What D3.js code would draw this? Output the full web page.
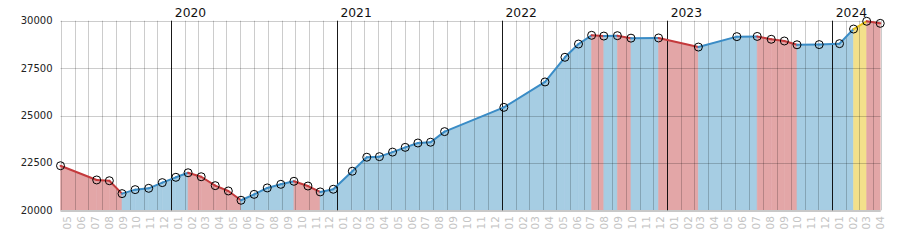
<!DOCTYPE html>
<html>
<head>
<meta charset="utf-8">
<script src="https://cdn.jsdelivr.net/npm/d3@7"></script>
<style>
  html, body { margin: 0; padding: 0; background: #fff; }
  svg { display: block; }
  text { font-family: "DejaVu Sans", sans-serif; }
</style>
</head>
<body>
<svg id="chart" width="900" height="250"></svg>
<script>
// ---- data ----
const dates = [
  "2019-05-01","2019-07-20","2019-08-17","2019-09-14","2019-10-13","2019-11-12","2019-12-12",
  "2020-01-11","2020-02-07","2020-03-07","2020-04-07","2020-05-06","2020-06-03","2020-07-02",
  "2020-07-31","2020-08-30","2020-09-28","2020-10-29","2020-11-25","2020-12-24",
  "2021-02-04","2021-03-08","2021-04-05","2021-05-04","2021-06-01","2021-06-29","2021-07-27",
  "2021-08-27","2022-01-05","2022-04-06","2022-05-20","2022-06-19","2022-07-18","2022-08-14",
  "2022-09-13","2022-10-13","2022-12-13","2023-03-11","2023-06-04","2023-07-19","2023-08-19",
  "2023-09-17","2023-10-15","2023-12-03","2024-01-17","2024-02-17","2024-03-17","2024-04-16"
];
const values = [
  22350,21600,21560,20880,21090,21160,21460,
  21740,21980,21770,21300,21020,20530,20840,
  21180,21370,21530,21280,20970,21110,
  22060,22800,22830,23070,23320,23550,23590,
  24150,25430,26770,28070,28770,29230,29190,
  29210,29080,29090,28610,29160,29170,29020,
  28930,28730,28740,28790,29560,29970,29860
];
const highlightSegmentStarts = ["2024-02-17"];
const yTicks = [20000, 22500, 25000, 27500, 30000];
const domainStart = "2019-05-01";
const domainEnd = "2024-04-17";

// ---- setup ----
const parse = d3.utcParse("%Y-%m-%d");
const pts = dates.map((d, i) => ({ date: parse(d), value: values[i], key: d }));
const svg = d3.select("#chart");
const pL = 60.5, pR = 880.7, pT = 20.7, pB = 210.3;

const x = d3.scaleUtc().domain([parse(domainStart), parse(domainEnd)]).range([pL, pR]);
const y = d3.scaleLinear().domain([20000, 30000]).range([pB, pT]);

const colors = {
  up:   { fill: "#a6cde3", line: "#3a8cc6" },
  down: { fill: "#e3a6a7", line: "#c43a3c" },
  hi:   { fill: "#f3e08b", line: "#e9c11c" }
};

const segs = [];
for (let i = 0; i < pts.length - 1; i++) {
  const a = pts[i], b = pts[i + 1];
  let kind = b.value < a.value ? "down" : "up";
  if (highlightSegmentStarts.includes(a.key)) kind = "hi";
  segs.push({ a, b, kind });
}

// ---- areas ----
const area = d3.area().x(d => x(d.date)).y0(y(20000)).y1(d => y(d.value));
svg.append("g").selectAll("path").data(segs).join("path")
  .attr("d", s => area([s.a, s.b]))
  .attr("fill", s => colors[s.kind].fill)
  .attr("stroke", s => colors[s.kind].fill)
  .attr("stroke-width", 0.6);

// ---- grid (drawn over fills, semi transparent) ----
const grid = svg.append("g");
const months = d3.utcMonth.range(parse(domainStart), parse(domainEnd));
const monthLines = months.filter(m => m.getUTCMonth() !== 0);
grid.selectAll("line.m").data(monthLines.concat([parse(domainEnd)])).join("line")
  .attr("x1", d => Math.round(x(d)) + 0.5).attr("x2", d => Math.round(x(d)) + 0.5)
  .attr("y1", pT).attr("y2", pB)
  .attr("stroke", "rgba(0,0,0,0.2)").attr("stroke-width", 1);
grid.selectAll("line.h").data(yTicks.filter(t => t !== 20000)).join("line")
  .attr("x1", pL).attr("x2", pR)
  .attr("y1", d => Math.round(y(d)) + 0.5).attr("y2", d => Math.round(y(d)) + 0.5)
  .attr("stroke", "rgba(0,0,0,0.2)").attr("stroke-width", 1);
grid.append("line")
  .attr("x1", pL).attr("x2", pR)
  .attr("y1", Math.round(y(20000)) + 1).attr("y2", Math.round(y(20000)) + 1)
  .attr("stroke", "#c8c8c8").attr("stroke-width", 2);

// year lines
const yearsIn = d3.utcYear.range(d3.utcYear.ceil(parse(domainStart)), parse(domainEnd));
grid.selectAll("line.y").data(yearsIn).join("line")
  .attr("x1", d => Math.round(x(d)) + 0.5).attr("x2", d => Math.round(x(d)) + 0.5)
  .attr("y1", pT).attr("y2", pB)
  .attr("stroke", "rgba(0,0,0,0.9)").attr("stroke-width", 1);
svg.append("g").selectAll("text").data(yearsIn).join("text")
  .attr("x", d => x(d) + 3.5).attr("y", 17.3)
  .attr("font-size", 12.3).attr("fill", "#111")
  .text(d3.utcFormat("%Y"));

// ---- lines ----
const line = d3.line().x(d => x(d.date)).y(d => y(d.value));
svg.append("g").selectAll("path").data(segs).join("path")
  .attr("d", s => line([s.a, s.b]))
  .attr("fill", "none")
  .attr("stroke", s => colors[s.kind].line)
  .attr("stroke-width", 2)
  .attr("stroke-linecap", "round");

// ---- markers ----
svg.append("g").selectAll("circle").data(pts).join("circle")
  .attr("cx", d => x(d.date)).attr("cy", d => y(d.value))
  .attr("r", 4)
  .attr("fill", "none").attr("stroke", "#000").attr("stroke-width", 1);

// ---- y axis labels ----
svg.append("g").selectAll("text").data(yTicks).join("text")
  .attr("x", 52.5).attr("y", d => y(d)).attr("dy", "0.35em")
  .attr("text-anchor", "end").attr("font-size", 10).attr("fill", "#222")
  .text(d => d);

// ---- month labels ----
const monthLabels = d3.utcMonth.range(parse(domainStart), d3.utcMonth.ceil(parse(domainEnd)));
svg.append("g").selectAll("text").data(monthLabels).join("text")
  .attr("transform", d => `translate(${x(d3.utcDay.offset(d, 14)) + 0.5},216) rotate(-90)`)
  .attr("text-anchor", "end").attr("dy", "0.35em")
  .attr("font-size", 10.5).attr("fill", "#c4c4c4")
  .text(d3.utcFormat("%m"));
</script>
</body>
</html>
